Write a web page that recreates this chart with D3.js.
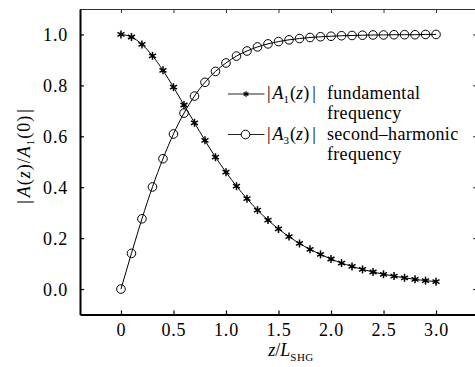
<!DOCTYPE html>
<html><head><meta charset="utf-8">
<script src="https://cdn.jsdelivr.net/npm/d3@7/dist/d3.min.js"></script>
</head><body style="margin:0">
<svg id="c" width="475" height="367"></svg>
<script>
const zValues = [0.0,0.1,0.2,0.3,0.4,0.5,0.6,0.7,0.8,0.9,1.0,1.1,1.2,1.3,1.4,1.5,1.6,1.7,1.8,1.9,2.0,2.1,2.2,2.3,2.4,2.5,2.6,2.7,2.8,2.9,3.0];
const fundamental = [1.000,0.990,0.961,0.916,0.859,0.793,0.723,0.653,0.584,0.518,0.459,0.404,0.355,0.310,0.271,0.236,0.206,0.179,0.156,0.136,0.118,0.102,0.089,0.077,0.067,0.058,0.051,0.044,0.038,0.033,0.029];
const secondHarmonic = [0.000,0.140,0.276,0.401,0.512,0.609,0.691,0.758,0.812,0.855,0.888,0.915,0.935,0.951,0.963,0.972,0.979,0.984,0.988,0.991,0.993,0.995,0.996,0.997,0.998,0.998,0.999,0.999,0.999,1.000,1.000];
const xTicks = [0,0.5,1.0,1.5,2.0,2.5,3.0];
const xTickLabels = ["0","0.5","1.0","1.5","2.0","2.5","3.0"];
const yTicks = [0.0,0.2,0.4,0.6,0.8,1.0];
const yTickLabels = ["0.0","0.2","0.4","0.6","0.8","1.0"];

const FONT = "'Liberation Serif', 'Times New Roman'";
const svg = d3.select("#c").style("display","block").style("font-family", FONT, "important");
const L = 80, R = 477, T = 9, B = 314.5;
const x = d3.scaleLinear().domain([-0.39, 3.39]).range([L, R]);
const y = d3.scaleLinear().domain([-0.1, 1.1]).range([B, T]);
const FS = 18;

svg.append("line").attr("x1",L).attr("x2",R).attr("y1",T+0.5).attr("y2",T+0.5).attr("stroke","#333").attr("stroke-width",1.2);
svg.append("line").attr("x1",R).attr("x2",R).attr("y1",T).attr("y2",B).attr("stroke","#333").attr("stroke-width",1.2);

const tk = 4;
const gx = svg.append("g").attr("transform",`translate(0,${B})`)
  .call(d3.axisBottom(x).tickValues(xTicks).tickSizeInner(-tk).tickSizeOuter(0).tickPadding(10).tickFormat((d,i)=>xTickLabels[i]));
const gxt = svg.append("g").attr("transform",`translate(0,${T})`)
  .call(d3.axisTop(x).tickValues(xTicks).tickSizeInner(-tk).tickSizeOuter(0).tickFormat(""));
const gy = svg.append("g").attr("transform",`translate(${L},0)`)
  .call(d3.axisLeft(y).tickValues(yTicks).tickSizeInner(-tk).tickSizeOuter(0).tickPadding(12).tickFormat((d,i)=>yTickLabels[i]));
const gyr = svg.append("g").attr("transform",`translate(${R},0)`)
  .call(d3.axisRight(y).tickValues(yTicks).tickSizeInner(-tk).tickSizeOuter(0).tickFormat(""));
[gxt,gyr].forEach(g=>{g.select(".domain").remove(); g.selectAll(".tick line").attr("stroke","#333");});
[gx,gy].forEach(g=>{
  g.attr("font-family", null).attr("font-size", FS);
  g.select(".domain").attr("stroke","#000").attr("stroke-width",2);
  g.selectAll(".tick line").attr("stroke","#000").attr("stroke-width",1.2);
  g.selectAll(".tick text").attr("font-size",FS).attr("fill","#000").attr("letter-spacing","0.8px");
});
gx.selectAll(".tick text").attr("dy","0.71em").attr("y",9);
gy.selectAll(".tick text").attr("dy","0.34em");

const pts1 = zValues.map((z,i)=>[z,fundamental[i]]);
const pts2 = zValues.map((z,i)=>[z,secondHarmonic[i]]);
const line = d3.line().x(d=>x(d[0])).y(d=>y(d[1])).curve(d3.curveMonotoneX);
svg.append("path").attr("d",line(pts1)).attr("fill","none").attr("stroke","#000").attr("stroke-width",1);
svg.append("path").attr("d",line(pts2)).attr("fill","none").attr("stroke","#000").attr("stroke-width",1);

function star(g, cx, cy, r, sw){
  const a = g.append("g").attr("transform",`translate(${cx},${cy})`);
  [90,30,-30].forEach(deg=>{
    const t = deg*Math.PI/180;
    a.append("line").attr("x1",-r*Math.cos(t)).attr("y1",-r*Math.sin(t)).attr("x2",r*Math.cos(t)).attr("y2",r*Math.sin(t))
      .attr("stroke","#000").attr("stroke-width",sw);
  });
  a.append("circle").attr("r",r*0.4).attr("fill","#000");
}
const m1 = svg.append("g");
pts1.forEach(d=>star(m1, x(d[0]), y(d[1]), 4, 1.5));
svg.append("g").selectAll("circle").data(pts2).join("circle")
  .attr("cx",d=>x(d[0])).attr("cy",d=>y(d[1])).attr("r",4.3)
  .attr("fill","none").attr("stroke","#000").attr("stroke-width",1);

const lg = svg.append("g");
const lx1 = 228, lx2 = 264.5, ly1 = 94, ly2 = 134.5;
[ly1, ly2].forEach(yy=>lg.append("line").attr("x1",lx1).attr("x2",lx2).attr("y1",yy).attr("y2",yy).attr("stroke","#222").attr("stroke-width",1));
star(lg, 246, ly1, 2.8, 1.3);
lg.append("circle").attr("cx",245.5).attr("cy",ly2).attr("r",4.3).attr("fill","#fff").attr("stroke","#000").attr("stroke-width",1);

function mathLabel(g, xx, yy, sub){
  const t = g.append("text").attr("x",xx).attr("y",yy).attr("font-size",FS).attr("fill","#000");
  t.append("tspan").text("|");
  t.append("tspan").attr("font-style","italic").attr("dx",2).text("A");
  t.append("tspan").attr("font-size",11).attr("dy",4).text(sub);
  t.append("tspan").attr("dy",-4).attr("dx",1).text("(");
  t.append("tspan").attr("font-style","italic").text("z");
  t.append("tspan").text(")");
  t.append("tspan").attr("dx",3).text("|");
  return t;
}
mathLabel(lg, 267, 99, "1");
mathLabel(lg, 267, 140, "3");
const txtX = 327;
[["fundamental",99],["frequency",119],["second\u2013harmonic",140],["frequency",160]].forEach(([s,yy])=>{
  lg.append("text").attr("x",txtX).attr("y",yy).attr("font-size",FS).attr("fill","#000").attr("letter-spacing","0.3px").text(s);
});

const xt = svg.append("text").attr("x",291).attr("y",356).attr("font-size",FS).attr("fill","#000").attr("text-anchor","middle");
xt.append("tspan").attr("font-style","italic").text("z");
xt.append("tspan").text("/");
xt.append("tspan").attr("font-style","italic").text("L");
xt.append("tspan").attr("font-size",11).attr("dy",5).attr("letter-spacing","0.5px").text("SHG");

const yt = svg.append("text").attr("transform","translate(30,156) rotate(-90)").attr("font-size",FS).attr("fill","#000").attr("text-anchor","middle").attr("letter-spacing","1px");
yt.append("tspan").text("|");
yt.append("tspan").attr("font-style","italic").attr("dx",2).text("A");
yt.append("tspan").text("(");
yt.append("tspan").attr("font-style","italic").text("z");
yt.append("tspan").text(")/");
yt.append("tspan").attr("font-style","italic").text("A");
yt.append("tspan").attr("font-size",11).attr("dy",4).text("1");
yt.append("tspan").attr("dy",-4).text("(0)");
yt.append("tspan").attr("dx",2).text("|");

svg.selectAll("text, tspan").style("font-family", FONT, "important");
</script>
</body></html>
